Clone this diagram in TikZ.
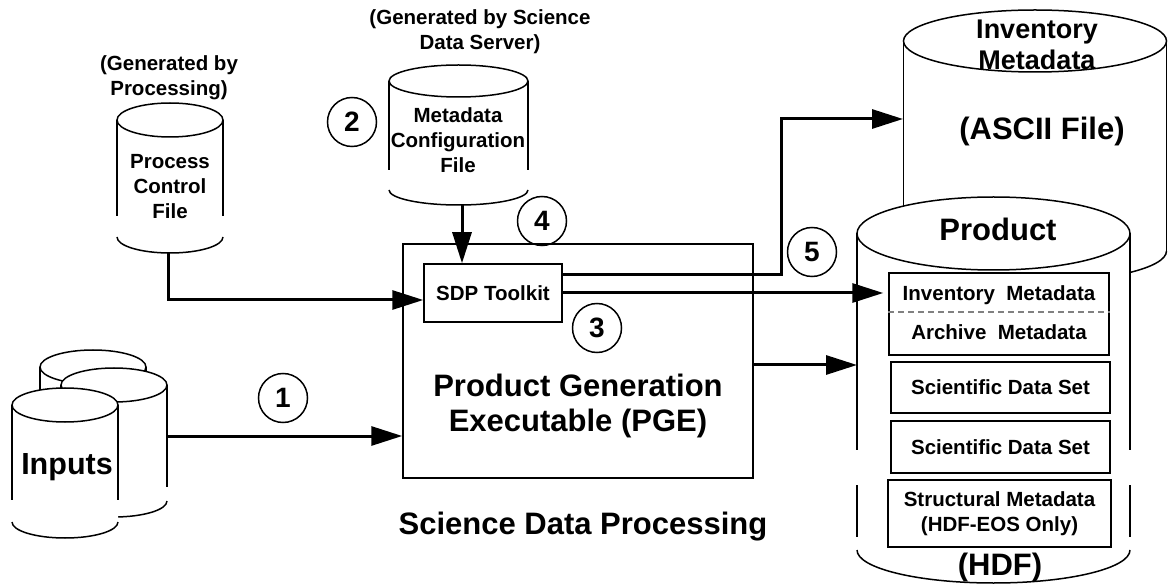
\documentclass[tikz,border=0pt]{standalone}
\usepackage{fontspec}
\setmainfont{Liberation Sans}
\usetikzlibrary{arrows.meta,positioning}

\tikzset{
  cil/.style={line width=1.5pt},
  caja/.style={draw,line width=1.5pt,inner sep=0pt},
  texto/.style={font=\fontsize{20.5}{25}\selectfont\bfseries,align=center,inner sep=0pt},
  grande/.style={font=\fontsize{31}{35}\selectfont\bfseries,align=center,inner sep=0pt},
  numero/.style={draw,circle,line width=1.5pt,minimum size=49pt,inner sep=0pt,font=\fontsize{28}{28}\selectfont\bfseries},
  flujo/.style={line width=3pt,-{Triangle[length=31pt,width=19pt]}}
}

% cilindro: cx, cy, rx, ry, fin de lados, cy abajo, ry abajo
\newcommand{\cilindro}[7]{%
  \fill[white] (#1-#3,#2) -- (#1-#3,#6) arc[start angle=180,end angle=0,x radius=#3,y radius=#7] -- (#1+#3,#2) -- cycle;
  \draw[cil,fill=white] (#1,#2) ellipse [x radius=#3,y radius=#4];
  \draw[cil] (#1-#3,#2) -- (#1-#3,#5) (#1+#3,#2) -- (#1+#3,#5);
  \draw[cil] (#1-#3,#6) arc[start angle=180,end angle=0,x radius=#3,y radius=#7];
}

\begin{document}
\begin{tikzpicture}[x=1pt,y=-1pt]
		\fill[white] (0,0) rectangle (1168,585);
		\useasboundingbox (0,0) rectangle (1168,585);
		% entradas
		\cilindro{93}{367}{53}{17}{482}{484}{17}
		\cilindro{114}{385}{53}{17}{487}{501}{16}
		\cilindro{65}{405}{53}{17}{500}{522}{16}
		\node[grande,font=\fontsize{30.5}{35}\selectfont\bfseries] (inputs) at (67,467) {Inputs};
		\coordinate (ent) at (167,436);
		% archivo de control
		\node[texto] (gen1) at (169,78) {(Generated by\\Processing)};
		\cilindro{170}{120}{53}{17}{216}{237}{16}
		\node[texto] (pcf) at (170,187) {Process\\Control\\File};
		\coordinate (pcfbase) at (168,253);
		% archivo de configuracion
		\node[texto] (gen2) at (480,32) {(Generated by Science\\Data Server)};
		\cilindro{458.5}{81}{69.5}{16}{170}{190}{15}
		\node[texto] (mcf) at (458,140) {Metadata\\Configuration\\File};
		\coordinate (mcfbase) at (462,205);
		% PGE
		\node[caja,minimum width=350,minimum height=234] (pge) at (578,361) {};
		\node[grande] (pgetxt) at (578,406) {Product Generation\\Executable (PGE)};
		\node[caja,texto,minimum width=138,minimum height=58] (sdp) at (493,293) {SDP Toolkit};
		\node[grande] (sci) at (583,527) {Science Data Processing};
		% numeros
		\node[numero] (n1) at (283,398) {1};
		\node[numero] (n2) at (352,122) {2};
		\node[numero] (n3) at (597,328) {3};
		\node[numero] (n4) at (542,221) {4};
		\node[numero] (n5) at (812,252) {5};
		% metadatos ASCII
		\cilindro{1035}{41}{131.5}{31}{251}{251}{31}
		\node[texto,font=\fontsize{27}{31}\selectfont\bfseries] (invtop) at (1037,45) {Inventory\\Metadata};
		\node[grande] (ascii) at (1042,131) {(ASCII File)};
		\coordinate (codo) at (781,119);
		\coordinate (asc) at (903,119);
		% producto
		\cilindro{993.5}{233.5}{136.5}{36.5}{450}{550}{33}
		\draw[cil] (857,485) -- (857,537) (1130,485) -- (1130,537);
		\node[grande] (prod) at (998,229) {Product};
		\node[grande] (hdf) at (1000,567) {(HDF)};
		\node[caja,minimum width=220,minimum height=82] (b1) at (999,314) {};
		\draw[gray,line width=1.2pt,dash pattern=on 6pt off 4pt] (b1.west |- 0,312) -- (b1.east |- 0,312);
		\node[texto] (inv) at (999,295) {Inventory\ \ Metadata};
		\node[texto] (arch) at (999,332) {Archive\ \ Metadata};
		\node[caja,texto,minimum width=219,minimum height=51] (b2) at (1000.5,387.5) {Scientific Data Set};
		\node[caja,texto,minimum width=219,minimum height=52] (b3) at (1000.5,447) {Scientific Data Set};
		\node[caja,texto,minimum width=223,minimum height=67] (b4) at (999.5,513.5) {Structural Metadata\\(HDF-EOS Only)};
		\coordinate (prodizq) at (857,365);
		% flechas
		\draw[flujo] (ent) -- (ent -| pge.west);
		\draw[flujo] (pcfbase) |- ([yshift=-7pt]sdp.west);
		\draw[flujo] (mcfbase) -- (mcfbase |- sdp.north);
		\draw[flujo] ([yshift=18pt]sdp.east) -| (codo) -- (asc);
		\draw[flujo,shorten >=5pt] (sdp.east) -- (sdp.east -| b1.west);
		\draw[flujo] ([yshift=-4pt]pge.east) -- (prodizq);
\end{tikzpicture}
\end{document}
